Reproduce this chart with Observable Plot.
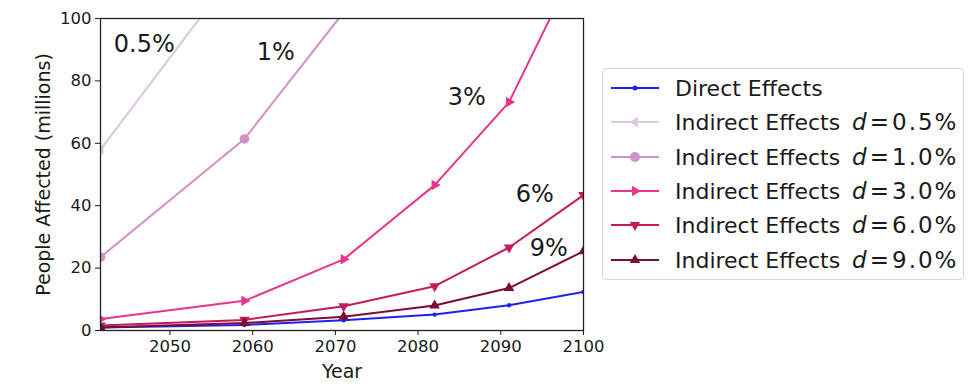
<!DOCTYPE html>
<html>
<head>
<meta charset="utf-8">
<script src="https://cdn.jsdelivr.net/npm/d3@7"></script>
<script src="https://cdn.jsdelivr.net/npm/@observablehq/plot@0.6"></script>
<style>
  body { margin: 0; background: #fff; }
  #wrap { position: relative; width: 975px; height: 391px; font-family: "DejaVu Sans", sans-serif; }
  #legend { position: absolute; left: 602px; top: 68px; width: 362px; height: 212px; border: 1px solid #d8d8d8; border-radius: 4px; box-sizing: border-box; }
  .row { position: absolute; left: 0; height: 30px; display: flex; align-items: center; }
  .row svg { display: block; flex: none; }
  .row .t { font-size: 22px; color: #1a1a1a; margin-left: 12px; white-space: nowrap; }
  .row .m { margin-left: 12px; font-size: 23px; }
  .row .m i { font-style: italic; margin-right: 3px; }
  .row .num { letter-spacing: 2px; margin-left: 3px; }
</style>
</head>
<body>
<div id="wrap"></div>
<script>
// ---- data ----
const years = [2041.6, 2059, 2071, 2082, 2091, 2100];
const direct = [1.0, 1.8, 3.3, 5.1, 8.1, 12.4];
const ind05 = [58, 119, 190, 300, 420, 560];
const ind1 = [23.5, 61.4, 102, 150, 205, 275];
const ind3 = [3.7, 9.5, 22.8, 46.6, 73.2, 122];
const ind6 = [1.6, 3.4, 7.8, 14.2, 26.6, 43.4];
const ind9 = [1.0, 2.4, 4.4, 8.0, 13.6, 25.4];

const seriesNames = ["Direct Effects", "0.5%", "1.0%", "3.0%", "6.0%", "9.0%"];
const seriesValues = [direct, ind05, ind1, ind3, ind6, ind9];
const seriesColors = ["#1f1fef", "#dcc6e0", "#d38fc7", "#e7358e", "#c51b5c", "#7b0c32"];
const seriesSymbols = ["dot", "triangleLeft", "circle", "triangleRight", "triangleDown", "triangleUp"];

const annoText = ["0.5%", "1%", "3%", "6%", "9%"];
const annoYear = [2046.9, 2062.8, 2085.9, 2094.1, 2095.8];
const annoValue = [91.7, 89.1, 74.7, 43.6, 26.3];

const xTicks = [2050, 2060, 2070, 2080, 2090, 2100];
const yTicks = [0, 20, 40, 60, 80, 100];
const xLabel = "Year";
const yLabel = "People Affected (millions)";

// ---- build ----
const rotations = {dot: 0, circle: 0, triangleLeft: -90, triangleRight: 90, triangleDown: 180, triangleUp: 0};
const rows = [];
seriesNames.forEach((s, i) => years.forEach((y, j) => rows.push({series: s, i, year: y, value: seriesValues[i][j]})));
const annos = annoText.map((t, i) => ({t, year: annoYear[i], value: annoValue[i]}));

const marks = [];
seriesNames.forEach((s, i) => {
  const d = rows.filter(r => r.i === i);
  marks.push(Plot.line(d, {x: "year", y: "value", stroke: seriesColors[i], strokeWidth: 2, clip: "frame"}));
  const sym = seriesSymbols[i];
  const isTri = sym.startsWith("triangle");
  marks.push(Plot.dot(d, {
    x: "year", y: "value", fill: seriesColors[i], stroke: "none", clip: "frame",
    symbol: isTri ? "triangle" : "circle",
    rotate: rotations[sym],
    r: sym === "dot" ? 2.2 : (sym === "circle" ? 4.8 : 3.9)
  }));
});

const plot = Plot.plot({
  width: 975, height: 391,
  marginLeft: 100, marginRight: 392, marginTop: 18, marginBottom: 61,
  style: {fontFamily: "DejaVu Sans", fontSize: "16.5px", color: "#1a1a1a", background: "transparent"},
  x: {domain: [2041.6, 2100]},
  y: {domain: [0, 100]},
  marks: [
    ...marks,
    Plot.text(annos, {x: "year", y: "value", text: "t", fontSize: 24, fill: "#1a1a1a"}),
    Plot.frame({stroke: "#222", strokeWidth: 1.3}),
    Plot.axisX({ticks: xTicks, tickFormat: "d", tickSize: 5, tickPadding: 5, fontSize: 16.5, label: null}),
    Plot.axisY({ticks: yTicks, tickSize: 5, tickPadding: 4, fontSize: 16.5, label: null}),
    Plot.text([xLabel], {frameAnchor: "bottom", text: d => d, dy: 41, fontSize: 19, lineAnchor: "middle", fill: "#1a1a1a"}),
    Plot.text([yLabel], {frameAnchor: "left", text: d => d, dx: -57, rotate: -90, textAnchor: "middle", fontSize: 19, lineAnchor: "middle", fill: "#1a1a1a"})
  ]
});

const wrap = document.getElementById("wrap");
wrap.appendChild(plot);
plot.style.position = "absolute";
plot.style.left = "0";
plot.style.top = "0";

// legend
const legend = document.createElement("div");
legend.id = "legend";
const symPath = {
  triangleUp: "M0,-6L5.2,3L-5.2,3Z",
  triangleDown: "M0,6L5.2,-3L-5.2,-3Z",
  triangleRight: "M6,0L-3,5.2L-3,-5.2Z",
  triangleLeft: "M-6,0L3,5.2L3,-5.2Z"
};
seriesNames.forEach((s, i) => {
  const row = document.createElement("div");
  row.className = "row";
  row.style.top = (4 + i * 34.3) + "px";
  const sym = seriesSymbols[i];
  let marker;
  if (sym === "dot") marker = `<circle cx="32" cy="15" r="2.5" fill="${seriesColors[i]}"/>`;
  else if (sym === "circle") marker = `<circle cx="32" cy="15" r="5" fill="${seriesColors[i]}"/>`;
  else marker = `<path transform="translate(32,15)" d="${symPath[sym]}" fill="${seriesColors[i]}"/>`;
  const label = i === 0 ? s : `Indirect Effects<span class="m"><i>d</i>=<span class="num">${s}</span></span>`;
  row.innerHTML = `<svg width="60" height="30"><line x1="8" x2="56" y1="15" y2="15" stroke="${seriesColors[i]}" stroke-width="2"/>${marker}</svg><span class="t">${label}</span>`;
  legend.appendChild(row);
});
wrap.appendChild(legend);
</script>
</body>
</html>
